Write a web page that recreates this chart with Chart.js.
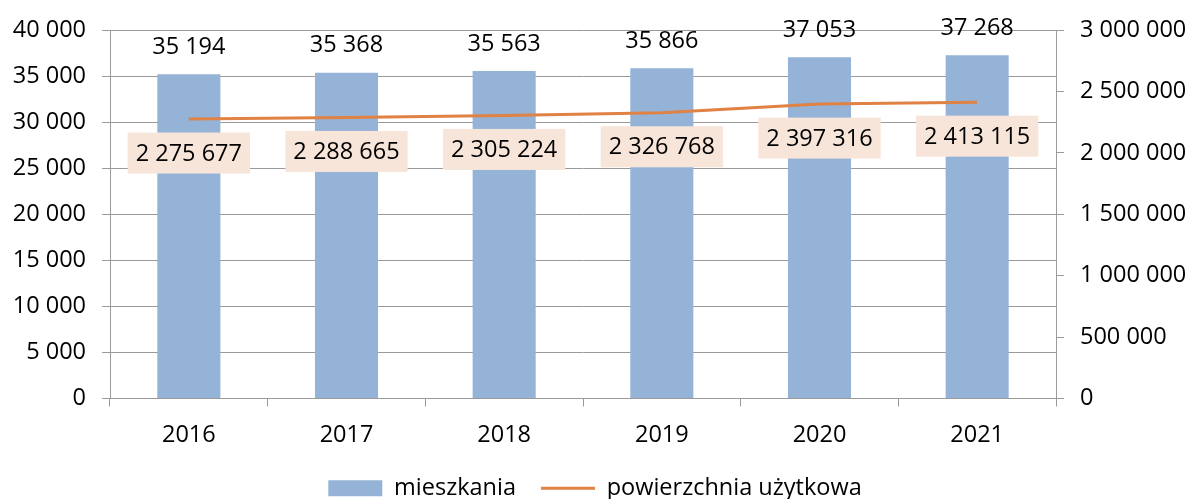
<!DOCTYPE html>
<html>
<head>
<meta charset="utf-8">
<script src="https://cdn.jsdelivr.net/npm/chart.js@4/dist/chart.umd.min.js"></script>
<style>
  html, body { margin: 0; padding: 0; background: #fff; }
  #wrap { width: 1190px; height: 499px; }
</style>
</head>
<body>
<div id="wrap"><canvas id="myChart"></canvas></div>
<script>
const years = ["2016", "2017", "2018", "2019", "2020", "2021"];
const mieszkania = [35194, 35368, 35563, 35866, 37053, 37268];
const powierzchnia = [2275677, 2288665, 2305224, 2326768, 2397316, 2413115];
const leftTicks = [0, 5000, 10000, 15000, 20000, 25000, 30000, 35000, 40000];
const rightTicks = [0, 500000, 1000000, 1500000, 2000000, 2500000, 3000000];

const FONT = "'Open Sans', 'DejaVu Sans', sans-serif";
const FONT_SIZE = 23.5;
const BAR_COLOR = "#95b3d7";
const LINE_COLOR = "#df8244";
const BOX_COLOR = "#f8e5da";
const GRID_COLOR = "#9a9a9a";

function fmt(v) {
  return String(v).replace(/\B(?=(\d{3})+(?!\d))/g, " ");
}

// draws the value labels: above bars, and in a pale box under the line
const valueLabels = {
  id: "valueLabels",
  afterDatasetsDraw(chart) {
    const ctx = chart.ctx;
    ctx.save();
    ctx.font = FONT_SIZE + "px " + FONT;
    ctx.textAlign = "center";
    ctx.textBaseline = "middle";

    const barMeta = chart.getDatasetMeta(0);
    barMeta.data.forEach((bar, i) => {
      ctx.fillStyle = "#000";
      ctx.fillText(fmt(mieszkania[i]), bar.x, bar.y - 27);
    });

    const lineMeta = chart.getDatasetMeta(1);
    lineMeta.data.forEach((pt, i) => {
      const txt = fmt(powierzchnia[i]);
      const w = ctx.measureText(txt).width + 16;
      const h = 41;
      const cy = pt.y + 34;
      ctx.fillStyle = BOX_COLOR;
      ctx.fillRect(pt.x - w / 2, cy - h / 2, w, h);
      ctx.fillStyle = "#000";
      ctx.fillText(txt, pt.x, cy + 1);
    });
    ctx.restore();
  }
};

const ctx = document.getElementById("myChart").getContext("2d");

const myChart = new Chart(ctx, {
  data: {
    labels: years,
    datasets: [
      {
        type: "bar",
        label: "mieszkania",
        data: mieszkania,
        backgroundColor: BAR_COLOR,
        yAxisID: "y",
        categoryPercentage: 1,
        barPercentage: 0.4,
        order: 1
      },
      {
        type: "line",
        label: "powierzchnia użytkowa",
        data: powierzchnia,
        borderColor: LINE_COLOR,
        backgroundColor: LINE_COLOR,
        borderWidth: 3,
        pointRadius: 0,
        tension: 0,
        yAxisID: "y1",
        order: 0
      }
    ]
  },
  options: {
    responsive: true,
    maintainAspectRatio: false,
    animation: false,
    layout: { padding: { top: 30, left: 0, right: 0, bottom: -11 } },
    plugins: {
      tooltip: { enabled: false },
      legend: {
        position: "bottom",
        labels: {
          font: { family: FONT, size: FONT_SIZE },
          color: "#000",
          usePointStyle: true,
          pointStyleWidth: 54,
          boxHeight: 16,
          padding: 25,
          generateLabels: function () {
            return [
              { text: "mieszkania", fillStyle: BAR_COLOR, strokeStyle: BAR_COLOR, lineWidth: 0, pointStyle: "rect", datasetIndex: 0 },
              { text: "powierzchnia użytkowa", fillStyle: LINE_COLOR, strokeStyle: LINE_COLOR, lineWidth: 3, pointStyle: "line", datasetIndex: 1 }
            ];
          }
        }
      }
    },
    scales: {
      x: {
        offset: true,
        grid: { display: true, drawOnChartArea: false, drawTicks: true, tickLength: 8, color: GRID_COLOR, offset: true },
        border: { display: true, color: GRID_COLOR },
        ticks: { font: { family: FONT, size: FONT_SIZE }, color: "#000", padding: 15, maxRotation: 0 },
        afterFit: (s) => { s.height = 53; }
      },
      y: {
        position: "left",
        min: 0,
        max: 40000,
        afterBuildTicks: (s) => { s.ticks = leftTicks.map(v => ({ value: v })); },
        grid: { color: GRID_COLOR, tickLength: 8 },
        border: { display: true, color: GRID_COLOR },
        ticks: { font: { family: FONT, size: FONT_SIZE }, color: "#000", padding: 16, callback: (v) => fmt(v) },
        afterFit: (s) => { s.width = 110; }
      },
      y1: {
        position: "right",
        min: 0,
        max: 3000000,
        afterBuildTicks: (s) => { s.ticks = rightTicks.map(v => ({ value: v })); },
        grid: { drawOnChartArea: false, color: GRID_COLOR, tickLength: 8 },
        border: { display: true, color: GRID_COLOR },
        ticks: { font: { family: FONT, size: FONT_SIZE }, color: "#000", padding: 16, callback: (v) => fmt(v) },
        afterFit: (s) => { s.width = 134; }
      }
    }
  },
  plugins: [valueLabels]
});
</script>
</body>
</html>
